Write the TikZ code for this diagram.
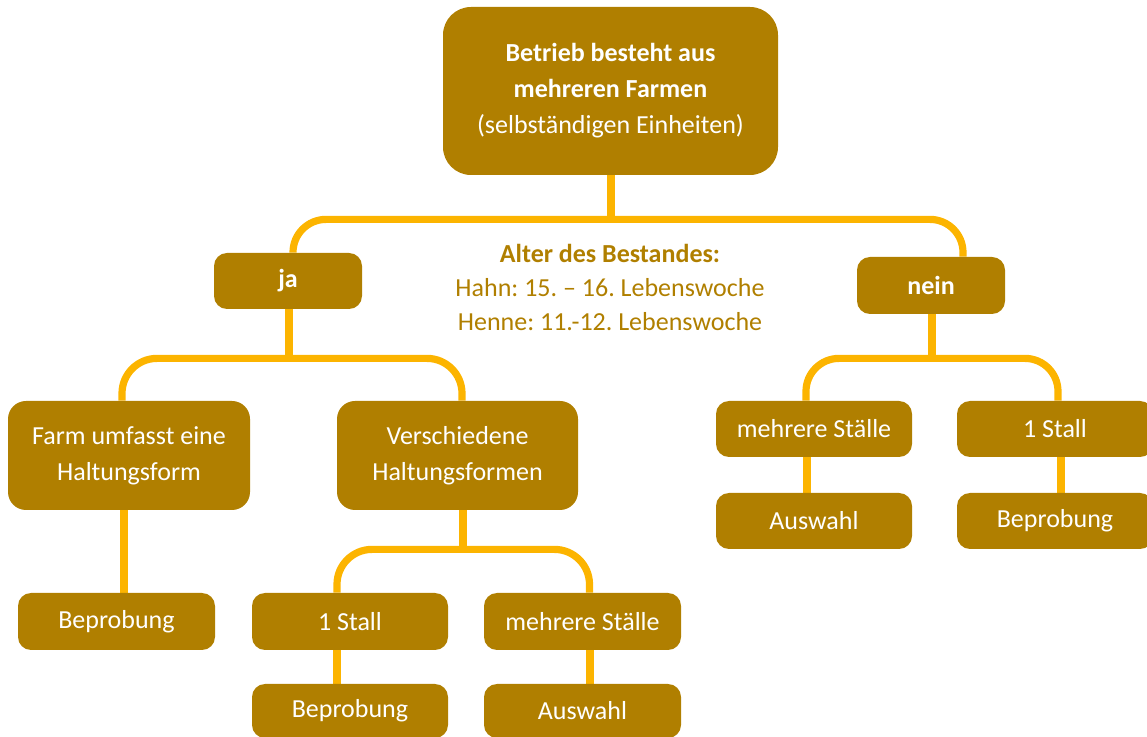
\documentclass[tikz,border=0pt]{standalone}
\usepackage{fontspec}
\setmainfont{Carlito}
\usetikzlibrary{calc,backgrounds}
\definecolor{boxbrown}{RGB}{176,127,0}
\definecolor{connyellow}{RGB}{252,180,0}
\frenchspacing
\begin{document}
\begin{tikzpicture}[x=0.5pt,y=-0.5pt,
  box/.style={rectangle, fill=boxbrown, text=white, align=center, inner sep=0pt,
    font=\fontsize{13}{18}\selectfont},
  sz/.style 2 args={minimum width=#1*0.5pt, minimum height=#2*0.5pt},
  bigr/.style={rounded corners=14pt},
  midr/.style={rounded corners=9pt},
  smallr/.style={rounded corners=6.5pt},
  conn/.style={draw=connyellow, line width=3.6pt},
  note/.style={text=boxbrown, align=center, inner sep=0pt,
    font=\fontsize{13}{17}\selectfont}]
\useasboundingbox (0,0) rectangle (1147,737);

\node[box, bigr, sz={335}{168}] (top) at (610.5,91)
  {\textbf{Betrieb besteht aus}\\\textbf{mehreren Farmen}\\(selbständigen Einheiten)};
\node[note] (info) at (610,287)
  {\textbf{Alter des Bestandes:}\\Hahn: 15. – 16. Lebenswoche\\Henne: 11.-12. Lebenswoche};

\node[box, smallr, sz={148}{56}] (ja) at (288,281) {\textbf{ja}};
\node[box, smallr, sz={148}{57}] (nein) at (931,285.5) {\textbf{nein}};

\node[box, midr, sz={242}{109}] (farm) at (129,455.5) {Farm umfasst eine\\Haltungsform};
\node[box, midr, sz={241}{109}] (versch) at (457.5,455.5) {Verschiedene\\Haltungsformen};

\node[box, smallr, sz={197}{57}] (bep1) at (116.5,621.5) {Beprobung};
\node[box, smallr, sz={196}{57}] (stall1) at (350,621.5) {1 Stall};
\node[box, smallr, sz={197}{57}] (mehr1) at (582.5,621.5) {mehrere Ställe};
\node[box, smallr, sz={196}{54}] (bep2) at (350,711) {Beprobung};
\node[box, smallr, sz={197}{54}] (ausw1) at (582.5,711) {Auswahl};

\node[box, smallr, sz={196}{56}] (mehrR) at (814,429) {mehrere Ställe};
\node[box, smallr, sz={196}{56}] (stallR) at (1055,429) {1 Stall};
\node[box, smallr, sz={196}{56}] (auswR) at (814,521) {Auswahl};
\node[box, smallr, sz={196}{56}] (bepR) at (1055,521) {Beprobung};

\begin{pgfonlayer}{background}
\coordinate (j1) at ($(top.south)+(0.5,44)$);
\draw[conn] ($(top.south)+(0.5,0)$) -- (j1);
\draw[conn, rounded corners=16.5pt] ($(ja.north)+(5,0)$) |- (j1) -| ($(nein.north)+(32,0)$);

\coordinate (j2) at ($(ja.south)+(1,49)$);
\draw[conn] ($(ja.south)+(1,0)$) -- (j2);
\draw[conn, rounded corners=17.5pt] ($(farm.north)+(-7,0)$) |- (j2) -| ($(versch.north)+(4.5,0)$);
\draw[conn] ($(farm.south)+(-5,0)$) -- ($(bep1.north)+(7.5,0)$);

\coordinate (j3) at ($(versch.south)+(5.5,39)$);
\draw[conn] ($(versch.south)+(5.5,0)$) -- (j3);
\draw[conn, rounded corners=17.5pt] ($(stall1.north)+(-13,0)$) |- (j3) -| ($(mehr1.north)+(7,0)$);
\draw[conn] ($(stall1.south)+(-13,0)$) -- ($(bep2.north)+(-13,0)$);
\draw[conn] ($(mehr1.south)+(7.5,0)$) -- ($(ausw1.north)+(7.5,0)$);

\coordinate (j4) at ($(nein.south)+(1,44)$);
\draw[conn] ($(nein.south)+(1,0)$) -- (j4);
\draw[conn, rounded corners=16.5pt] ($(mehrR.north)+(-8,0)$) |- (j4) -| ($(stallR.north)+(3,0)$);
\draw[conn] ($(mehrR.south)+(-7,0)$) -- ($(auswR.north)+(-7,0)$);
\draw[conn] ($(stallR.south)+(6,0)$) -- ($(bepR.north)+(6,0)$);
\end{pgfonlayer}
\end{tikzpicture}
\end{document}
